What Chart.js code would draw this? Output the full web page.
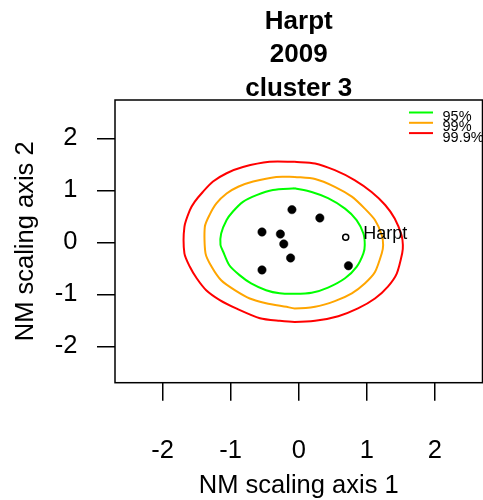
<!DOCTYPE html>
<html>
<head>
<meta charset="utf-8">
<script src="https://cdn.jsdelivr.net/npm/chart.js@4/dist/chart.umd.min.js"></script>
<style>
html, body { margin: 0; padding: 0; background: #fff; }
</style>
</head>
<body>
<canvas id="chart" width="483" height="500"></canvas>
<script>
const titleLines = ['Harpt', '2009', 'cluster 3'];
const xTitle = 'NM scaling axis 1';
const yTitle = 'NM scaling axis 2';
const xTicks = [-2, -1, 0, 1, 2];
const yTicks = [-2, -1, 0, 1, 2];

// cluster members (filled dots)
const clusterX = [-0.10, 0.31, -0.54, -0.27, -0.22, -0.12, -0.54, 0.73];
const clusterY = [0.63, 0.47, 0.20, 0.16, -0.03, -0.30, -0.53, -0.45];

// the site itself (open circle)
const siteLabel = 'Harpt';
const siteX = [0.69];
const siteY = [0.10];

// confidence contours, as [x, y]
const contourLabels = ['95%', '99%', '99.9%'];
const contour95 = [[-0.06,1.04],[0.19,0.97],[0.43,0.85],[0.68,0.65],[0.85,0.43],[0.95,0.17],[0.97,-0.05],[0.95,-0.21],[0.85,-0.47],[0.68,-0.69],[0.43,-0.87],[0.19,-0.97],[-0.06,-0.99],[-0.28,-0.98],[-0.48,-0.92],[-0.70,-0.79],[-0.87,-0.63],[-1.02,-0.44],[-1.11,-0.18],[-1.15,-0.05],[-1.14,0.17],[-1.06,0.43],[-0.97,0.59],[-0.82,0.78],[-0.62,0.91],[-0.38,1.01],[-0.06,1.04]];
const contour99 = [[-0.06,1.26],[0.24,1.22],[0.53,1.07],[0.78,0.88],[0.97,0.65],[1.12,0.43],[1.22,0.14],[1.24,-0.05],[1.22,-0.21],[1.12,-0.57],[0.97,-0.79],[0.78,-0.98],[0.53,-1.13],[0.24,-1.24],[-0.06,-1.27],[-0.18,-1.24],[-0.48,-1.17],[-0.72,-1.08],[-0.94,-0.92],[-1.14,-0.73],[-1.28,-0.47],[-1.37,-0.21],[-1.38,0.30],[-1.31,0.53],[-1.21,0.75],[-1.06,0.94],[-0.89,1.07],[-0.67,1.17],[-0.33,1.26],[-0.06,1.26]];
const contour999 = [[-0.06,1.55],[0.24,1.52],[0.53,1.39],[0.82,1.20],[1.07,0.97],[1.27,0.72],[1.41,0.46],[1.51,0.14],[1.53,-0.05],[1.52,-0.21],[1.44,-0.60],[1.31,-0.85],[1.12,-1.08],[0.87,-1.27],[0.58,-1.42],[0.24,-1.51],[-0.06,-1.53],[-0.28,-1.51],[-0.57,-1.46],[-0.92,-1.27],[-1.16,-1.11],[-1.36,-0.92],[-1.50,-0.69],[-1.60,-0.47],[-1.68,-0.21],[-1.68,0.30],[-1.60,0.62],[-1.53,0.78],[-1.41,0.97],[-1.26,1.17],[-1.06,1.33],[-0.82,1.45],[-0.43,1.55],[-0.06,1.55]];

const contourColors = ['#00ff00', '#ffa500', '#ff0000'];
const FONT = '"Liberation Sans", Arial, sans-serif';

Chart.defaults.color = '#000';
Chart.defaults.font.family = FONT;

const toPts = (pairs) => pairs.map(([x, y]) => ({ x, y }));
const contourSet = (pairs, i) => ({
    label: contourLabels[i], data: toPts(pairs), showLine: true, fill: false,
    borderColor: contourColors[i], borderWidth: 2, pointRadius: 0, tension: 0.25
});

const decor = {
    id: 'decor',
    afterDraw(chart) {
        const { ctx, chartArea: a, scales } = chart;
        ctx.save();
        ctx.strokeStyle = '#000';
        ctx.lineWidth = 1.5;
        ctx.strokeRect(a.left, a.top, a.right - a.left, a.bottom - a.top);

        ctx.fillStyle = '#000';
        ctx.textAlign = 'center';
        ctx.textBaseline = 'alphabetic';
        ctx.font = 'bold 26px ' + FONT;
        titleLines.forEach((t, i) => ctx.fillText(t, (a.left + a.right) / 2, 29 + i * 33.3));

        // legend, top right, lines packed tightly as in R
        ctx.textAlign = 'left';
        ctx.font = '14.5px ' + FONT;
        contourLabels.forEach((t, i) => {
            const ly = 112.5 + i * 10.3;
            ctx.strokeStyle = contourColors[i];
            ctx.lineWidth = 2;
            ctx.beginPath();
            ctx.moveTo(409, ly);
            ctx.lineTo(433, ly);
            ctx.stroke();
            ctx.fillText(t, 442.5, 120.7 + i * 10.5);
        });

        // site label right of the open circle
        ctx.font = '18px ' + FONT;
        const px = scales.x.getPixelForValue(siteX[0]);
        const py = scales.y.getPixelForValue(siteY[0]);
        ctx.fillText(siteLabel, px + 17.5, py + 2);
        ctx.restore();
    }
};

const axisCommon = (ticks) => ({
    type: 'linear',
    afterBuildTicks: (s) => { s.ticks = ticks.map((v) => ({ value: v })); },
    border: { display: false },
    grid: { drawOnChartArea: false, drawTicks: true, tickLength: 18, color: '#000', lineWidth: 1.5 },
});

new Chart(document.getElementById('chart'), {
    type: 'scatter',
    data: {
        datasets: [
            {
                label: 'cluster', data: clusterX.map((x, i) => ({ x, y: clusterY[i] })),
                pointRadius: 4.2, pointBackgroundColor: '#000', pointBorderColor: '#000', pointBorderWidth: 0.5
            },
            {
                label: siteLabel, data: siteX.map((x, i) => ({ x, y: siteY[i] })),
                pointRadius: 3, pointBackgroundColor: 'rgba(0,0,0,0)', pointBorderColor: '#000', pointBorderWidth: 1.5
            },
            contourSet(contour95, 0),
            contourSet(contour99, 1),
            contourSet(contour999, 2)
        ]
    },
    options: {
        responsive: false,
        animation: false,
        layout: { autoPadding: false, padding: { left: 0, right: 0.5, top: 100, bottom: 0 } },
        plugins: { legend: { display: false }, tooltip: { enabled: false }, title: { display: false } },
        scales: {
            x: {
                ...axisCommon(xTicks),
                min: -2.7, max: 2.7,
                afterFit: (s) => { s.height = 117.3; s.paddingLeft = 0; s.paddingRight = 0; },
                ticks: { padding: 35, maxRotation: 0, font: { size: 25.5, lineHeight: 1.2 } },
                title: { display: true, text: xTitle, font: { size: 25.5, lineHeight: 1.2 }, padding: { top: 0, bottom: -1.5 } }
            },
            y: {
                ...axisCommon(yTicks),
                min: -2.70, max: 2.74,
                afterFit: (s) => { s.width = 115; s.paddingTop = 0; s.paddingBottom = 0; },
                ticks: { padding: 19.5, font: { size: 25.5, lineHeight: 1.2 } },
                title: { display: true, text: yTitle, font: { size: 25.5, lineHeight: 1.2 }, padding: { top: 10.5, bottom: 0 } }
            }
        }
    },
    plugins: [decor]
});
</script>
</body>
</html>
